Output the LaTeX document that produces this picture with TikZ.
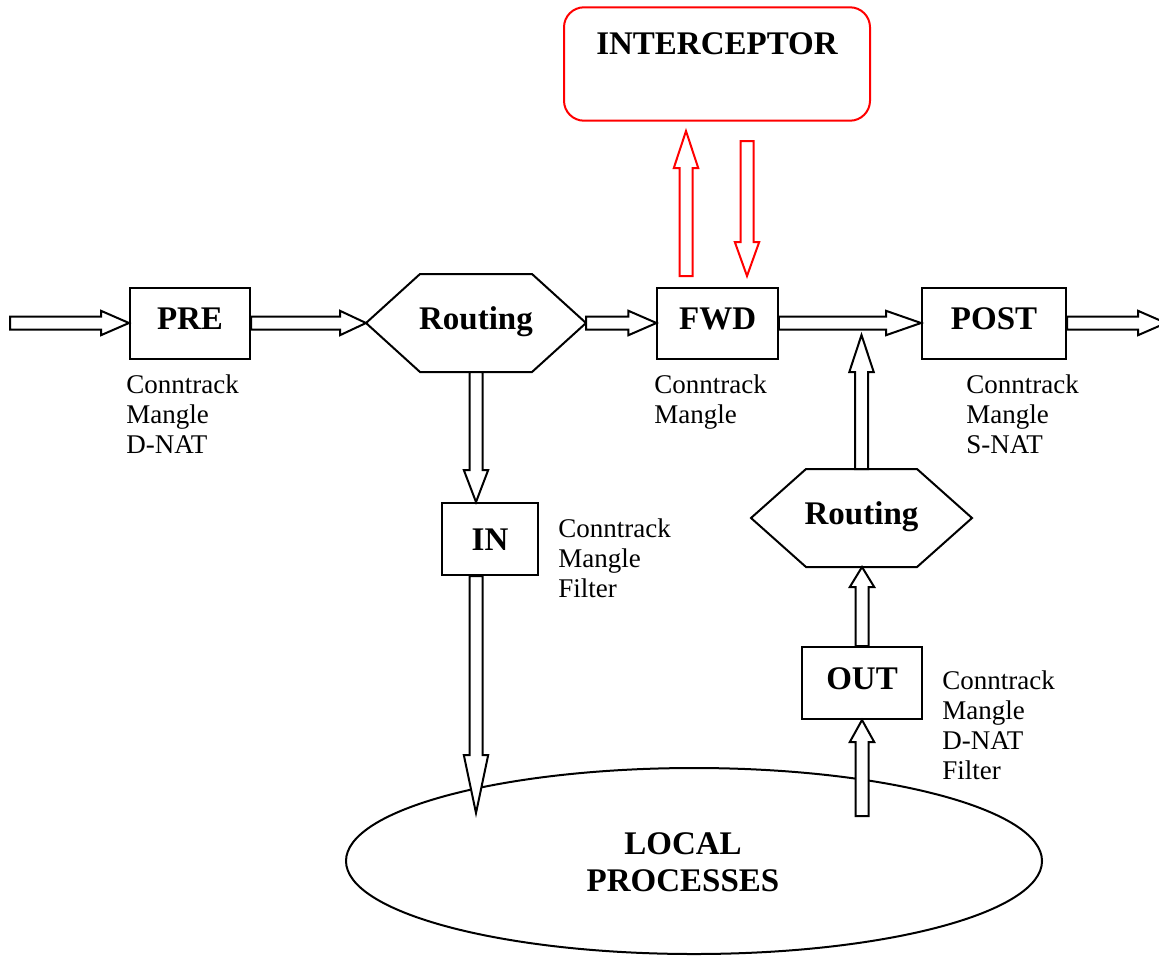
\documentclass[tikz,border=0pt]{standalone}
\usepackage{fontspec}
\setmainfont{Liberation Serif}
\usetikzlibrary{calc,shapes.geometric}

% half widths of the shaft and of the head of a block arrow
\newcommand{\bahw}{3.25pt}
\newcommand{\bahh}{6.1pt}
% hollow block arrow: [style]{start}{tip}{head length}
\newcommand{\blockarrow}[4][]{%
  \path (#2) coordinate (ba-s) (#3) coordinate (ba-e);
  \path ($(ba-e)!#4!(ba-s)$) coordinate (ba-h);
  \draw[blockarr,#1]
    ($(ba-s)!\bahw!90:(ba-e)$) -- ($(ba-h)!\bahw!90:(ba-e)$) --
    ($(ba-h)!\bahh!90:(ba-e)$) -- (ba-e) --
    ($(ba-h)!\bahh!-90:(ba-e)$) -- ($(ba-h)!\bahw!-90:(ba-e)$) --
    ($(ba-s)!\bahw!-90:(ba-e)$) -- cycle;}
% hexagon drawn round a plain node: {node}{depth of the points}
\newcommand{\hexoutline}[2]{%
  \draw[thinline] (#1.west) -- ($(#1.north west)+(#2,0)$) --
    ($(#1.north east)+(-#2,0)$) -- (#1.east) --
    ($(#1.south east)+(-#2,0)$) -- ($(#1.south west)+(#2,0)$) -- cycle;}

\tikzset{
  thinline/.style={line width=1pt, line join=miter},
  blockarr/.style={thinline, draw=black, fill=white},
  redarr/.style={draw=red},
  boldtext/.style={font=\bfseries\fontsize{16.5}{18.5}\selectfont},
  box/.style={boldtext, draw, thinline, inner sep=0pt,
    minimum width=60pt, minimum height=35.5pt,
    text height=11pt, text depth=5pt},
  hexnode/.style={boldtext, inner sep=0pt, outer sep=0pt,
    minimum width=110pt, minimum height=49pt,
    text height=11pt, text depth=5pt},
  icptbox/.style={boldtext, draw=red, thinline, rounded corners=10pt,
    inner sep=0pt, minimum width=153pt, minimum height=56.7pt,
    text height=11pt, text depth=21pt},
  lbl/.style={anchor=north west, inner sep=0pt, align=left,
    font=\fontsize{13.5}{15}\selectfont},
}

\begin{document}
\begin{tikzpicture}[x=0.5pt, y=-0.5pt]
\useasboundingbox (0,0) rectangle (1159,958);

% local processes
\node[ellipse, draw, thinline, inner sep=0pt,
      minimum width=348pt, minimum height=93pt] (local) at (694,861) {};
\node[boldtext, align=center, inner sep=0pt] (localtxt) at (683,862)
  {LOCAL\\PROCESSES};

% hook boxes
\node[box] (pre) at (190,323) {PRE};
\node[box, minimum width=60.25pt] (fwd) at (717.7,323) {FWD};
\node[box, minimum width=72pt] (post) at (994,323) {POST};
\node[box, minimum width=48pt, minimum height=36pt, text depth=0pt] (in) at (490,539) {IN};
\node[box, minimum height=36pt] (out) at (862,683) {OUT};

% routing decisions
\node[hexnode] (routeA) at (476,323) {Routing};
\hexoutline{routeA}{54}
\node[hexnode, minimum width=110.5pt] (routeB) at (861.5,518) {Routing};
\hexoutline{routeB}{55}

% interceptor
\node[icptbox] (icpt) at (717,64) {INTERCEPTOR};

% table lists under each hook
\node[lbl] (preL)  at (126,374.5) {Conntrack\\Mangle\\D-NAT};
\node[lbl] (fwdL)  at (654,374.5) {Conntrack\\Mangle};
\node[lbl] (postL) at (966,374.5) {Conntrack\\Mangle\\S-NAT};
\node[lbl] (inL)   at (558,518.5) {Conntrack\\Mangle\\Filter};
\node[lbl] (outL)  at (942,670.5) {Conntrack\\Mangle\\D-NAT\\Filter};

% free ends of the connectors
\coordinate (entry)    at (10,323);
\coordinate (exit)     at (1166,323);
\coordinate (inTip)    at (476,813);
\coordinate (mergeTip) at (861.5,335);
\coordinate (outStart) at (862,816);
\coordinate (upBase)   at (686,276);
\coordinate (upTip)    at (686,131);
\coordinate (downBase) at (747,141);
\coordinate (downTip)  at (747,276);

% packet flow
\blockarrow{entry}{pre.west}{14pt}
\blockarrow{pre.east}{routeA.west}{13pt}
\blockarrow{routeA.east}{fwd.west}{14pt}
\blockarrow{fwd.east}{post.west}{17.5pt}
\blockarrow{post.east}{exit}{14pt}
\blockarrow{routeA.south}{routeA.south |- in.north}{16pt}
\blockarrow{routeA.south |- in.south}{inTip}{29pt}
\blockarrow{outStart}{out.south}{11pt}
\blockarrow{out.north}{out.north |- routeB.south}{10pt}
\blockarrow{routeB.north}{mergeTip}{18.5pt}

% to and from the interceptor
\blockarrow[redarr]{upBase}{upTip}{18.5pt}
\blockarrow[redarr]{downBase}{downTip}{17pt}
\end{tikzpicture}
\end{document}
